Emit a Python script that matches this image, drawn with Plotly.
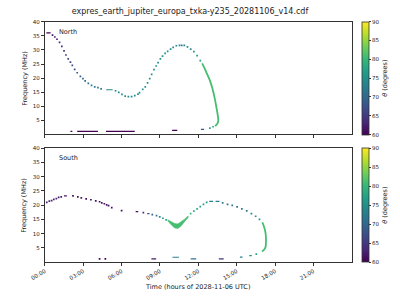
import plotly.graph_objects as go
from plotly.colors import sample_colorscale

TITLE = "expres_earth_jupiter_europa_txka-y235_20281106_v14.cdf"
TICK_HOURS = [0, 3, 6, 9, 12, 15, 18, 21]
TICK_LABELS = ["00:00", "03:00", "06:00", "09:00", "12:00", "15:00", "18:00", "21:00"]
FREQ_TICKS = [5, 10, 15, 20, 25, 30, 35, 40]
THETA_TICKS = [60, 65, 70, 75, 80, 85, 90]

# ---------------- North hemisphere ----------------
north_t = [0.6, 0.78, 0.95, 1.15, 1.33, 1.5, 1.65, 1.83, 2.0, 2.15, 2.33, 2.53, 2.78, 2.98,
           3.15, 3.4, 3.65, 3.9, 4.15, 4.4, 5.53, 5.78, 6.03, 6.28, 6.53, 6.78, 7.03, 7.28,
           7.4, 7.65, 7.85, 8.03, 8.2, 8.35, 8.53, 8.7, 8.85, 9.03, 9.2, 9.4, 9.6, 9.83,
           10.03, 10.28, 10.53, 10.7, 10.9, 11.15, 11.4, 11.65, 11.9, 12.15, 13.15, 12.9]
north_f = [35.3, 34.6, 33.8, 32.7, 31.3, 29.7, 28.2, 26.8, 25.7, 24.5, 23.1, 21.9, 20.6, 19.8,
           19.0, 18.1, 17.4, 16.9, 16.6, 16.2, 15.5, 14.9, 14.2, 13.6, 13.4, 13.4, 13.75, 14.3,
           14.8, 16.0, 16.9, 18.3, 19.8, 21.3, 23.0, 24.3, 25.5, 26.8, 27.8, 28.8, 29.5, 30.3,
           30.9, 31.5, 31.6, 31.6, 31.6, 31.1, 30.3, 29.4, 28.0, 26.2, 2.7, 2.2]
north_theta = [62, 63, 63, 64, 64, 65, 65, 66, 66, 67, 67, 68, 69, 70,
               70, 71, 72, 72, 73, 73, 74, 74, 74, 74, 74, 74, 74, 75,
               75, 75, 75, 75, 75, 75, 75, 75, 75, 75, 75, 75, 75, 74,
               74, 74, 73, 73, 73, 74, 74, 75, 76, 77, 78, 77]
# horizontal runs: start hour, end hour, frequency, theta
north_runs_t0 = [0.12, 4.8, 2.0, 2.53, 4.78, 9.95, 12.2]
north_runs_t1 = [0.45, 5.3, 2.15, 4.15, 7.03, 10.35, 12.45]
north_runs_f = [36.05, 15.85, 1.05, 1.05, 1.05, 1.4, 1.75]
north_runs_theta = [60, 74, 60, 60, 60, 60, 68]
# dense descending branch
north_arc_t = [12.3, 12.45, 12.65, 12.9, 13.1, 13.28, 13.4, 13.53, 13.55, 13.45, 13.3]
north_arc_f = [25.2, 23.8, 21.8, 19.2, 16.3, 12.8, 9.9, 6.4, 4.65, 3.6, 3.0]
north_arc_theta = 81

# ---------------- South hemisphere ----------------
south_t = [0.15, 0.35, 0.53, 0.7, 0.9, 1.08, 1.28, 2.2, 2.58, 2.85, 3.23, 3.6, 3.98, 4.28,
           4.45, 4.65, 4.83, 4.98, 5.23, 6.0, 7.7, 8.4, 8.73, 8.98, 9.23, 9.48,
           11.4, 11.65, 11.9, 12.15, 12.4, 12.65, 13.9, 14.28, 14.65, 15.03, 15.4, 15.78,
           16.15, 16.48, 16.78, 16.53, 4.28, 4.73]
south_f = [21.0, 21.4, 21.6, 22.0, 22.3, 22.7, 22.9, 23.25, 22.9, 22.55, 22.2, 21.9, 21.5, 21.2,
           20.8, 20.5, 20.1, 19.8, 19.1, 18.1, 17.4, 16.7, 16.3, 15.85, 15.4, 14.8,
           17.0, 17.9, 18.7, 19.5, 20.3, 21.0, 20.8, 20.3, 19.9, 19.4, 18.7, 18.0,
           17.0, 16.1, 15.0, 2.8, 1.1, 1.1]
south_theta = [63, 63, 63, 63, 63, 62, 62, 61, 61, 61, 61, 61, 61, 61,
               61, 61, 61, 61, 61, 61, 64, 69, 72, 74, 76, 78,
               80, 79, 78, 77, 76, 75, 72, 71, 71, 71, 72, 72,
               73, 74, 76, 78, 60, 60]
south_runs_t0 = [1.5, 7.1, 8.0, 12.85, 13.35, 8.33, 9.98, 11.4, 13.6, 15.25, 15.98]
south_runs_t1 = [1.72, 7.3, 8.18, 13.15, 13.65, 8.7, 10.48, 11.83, 13.98, 15.45, 16.18]
south_runs_f = [23.25, 17.7, 17.0, 21.3, 21.3, 1.1, 1.7, 1.1, 1.1, 1.75, 2.25]
south_runs_theta = [61, 61, 67, 73, 73, 62, 73, 71, 64, 73, 76]
south_arc_t = [17.0, 17.12, 17.22, 17.28, 17.28, 17.25, 17.15, 16.98]
south_arc_f = [14.0, 12.6, 11.0, 9.0, 6.6, 5.3, 4.4, 3.7]
south_arc_theta = 81
# thick V-shaped patch (outline: upper edge then lower edge)
south_blob_t = [9.6, 9.9, 10.15, 10.4, 10.65, 10.9, 11.2, 11.2, 10.9, 10.65, 10.4, 10.15, 9.9, 9.6]
south_blob_f = [14.9, 14.1, 13.55, 13.4, 14.1, 15.0, 16.2, 15.7, 14.1, 12.7, 11.8, 12.0, 13.0, 14.5]
south_blob_theta = 81

TMIN, TMAX = 60, 90


def col(theta):
    return sample_colorscale("Viridis", [(theta - TMIN) / (TMAX - TMIN)])[0]


fig = go.Figure()

panels = [
    ("x", "y", "coloraxis", north_t, north_f, north_theta,
     north_runs_t0, north_runs_t1, north_runs_f, north_runs_theta,
     north_arc_t, north_arc_f, north_arc_theta),
    ("x2", "y2", "coloraxis2", south_t, south_f, south_theta,
     south_runs_t0, south_runs_t1, south_runs_f, south_runs_theta,
     south_arc_t, south_arc_f, south_arc_theta),
]

for xa, ya, ca, t, f, th, r0, r1, rf, rth, at, af, ath in panels:
    for a, b, ff, tt in zip(r0, r1, rf, rth):
        fig.add_trace(go.Scatter(x=[a, b], y=[ff, ff], mode="lines",
                                 line=dict(color=col(tt), width=1.2),
                                 xaxis=xa, yaxis=ya, showlegend=False, hoverinfo="skip"))
    fig.add_trace(go.Scatter(x=at, y=af, mode="lines",
                             line=dict(color=col(ath), width=1.8, shape="spline"),
                             xaxis=xa, yaxis=ya, showlegend=False, hoverinfo="skip"))
    fig.add_trace(go.Scatter(x=t, y=f, mode="markers",
                             marker=dict(size=1.7, symbol="square", color=th, coloraxis=ca),
                             xaxis=xa, yaxis=ya, showlegend=False, hoverinfo="skip"))

fig.add_trace(go.Scatter(x=south_blob_t, y=south_blob_f, mode="lines", fill="toself",
                         fillcolor=col(south_blob_theta),
                         line=dict(color=col(south_blob_theta), width=0.6),
                         xaxis="x2", yaxis="y2", showlegend=False, hoverinfo="skip"))

W, H = 400, 300
xl, xr = 31 / W, 350 / W
top_dom = [1 - 132.7 / H, 1 - 19 / H]
bot_dom = [1 - 261.7 / H, 1 - 146.7 / H]
font = "DejaVu Sans"
axc = "#333333"

common_x = dict(range=[0, 24], tickvals=TICK_HOURS, ticktext=TICK_LABELS, ticks="outside",
                ticklen=3, tickcolor=axc, tickwidth=0.8, showline=True, mirror=True,
                linecolor=axc, linewidth=0.8, showgrid=False, zeroline=False,
                domain=[xl, xr], tickfont=dict(size=5.5, color="#222", family=font))
common_y = dict(range=[0, 40], tickvals=FREQ_TICKS, ticks="outside", ticklen=3, tickcolor=axc,
                tickwidth=0.8, showline=True, mirror=True, linecolor=axc, linewidth=0.8,
                showgrid=False, zeroline=False, tickfont=dict(size=5.5, color="#222", family=font))


def cbar(dom):
    return dict(x=360 / W, xanchor="left", y=(dom[0] + dom[1]) / 2, yanchor="middle",
                len=dom[1] - dom[0], lenmode="fraction", thickness=7, thicknessmode="pixels",
                outlinewidth=0.8, outlinecolor=axc, tickvals=THETA_TICKS, ticks="outside",
                ticklen=2, tickcolor=axc, tickfont=dict(size=5.5, color="#222", family=font),
                title=dict(text="<i>θ</i> (degrees)", side="right",
                           font=dict(size=6.5, color="#222", family=font)),
                xpad=0, ypad=0)


fig.update_layout(
    width=W, height=H, margin=dict(l=0, r=0, t=0, b=0),
    paper_bgcolor="white", plot_bgcolor="white",
    font=dict(family=font, color="#222"),
    title=dict(text=TITLE, x=190 / W, xanchor="center", y=1 - 11 / H, yanchor="middle",
               font=dict(size=8, family=font, color="#222")),
    xaxis=dict(common_x, anchor="y", showticklabels=False),
    yaxis=dict(common_y, domain=top_dom, anchor="x"),
    xaxis2=dict(common_x, anchor="y2", tickangle=-30),
    yaxis2=dict(common_y, domain=bot_dom, anchor="x2"),
    coloraxis=dict(colorscale="Viridis", cmin=TMIN, cmax=TMAX, colorbar=cbar(top_dom)),
    coloraxis2=dict(colorscale="Viridis", cmin=TMIN, cmax=TMAX, colorbar=cbar(bot_dom)),
    annotations=[
        dict(text="North", xref="x domain", yref="y domain", x=0.04, y=0.91,
             xanchor="left", yanchor="middle", showarrow=False, font=dict(size=6.5)),
        dict(text="South", xref="x2 domain", yref="y2 domain", x=0.04, y=0.91,
             xanchor="left", yanchor="middle", showarrow=False, font=dict(size=6.5)),
        dict(text="Frequency (MHz)", xref="paper", yref="paper", x=10 / W,
             y=(top_dom[0] + top_dom[1]) / 2, textangle=-90, showarrow=False,
             xanchor="center", yanchor="middle", font=dict(size=6.5)),
        dict(text="Frequency (MHz)", xref="paper", yref="paper", x=10 / W,
             y=(bot_dom[0] + bot_dom[1]) / 2, textangle=-90, showarrow=False,
             xanchor="center", yanchor="middle", font=dict(size=6.5)),
        dict(text="Time (hours of 2028-11-06 UTC)", xref="paper", yref="paper",
             x=190 / W, y=1 - 287 / H, showarrow=False, xanchor="center",
             yanchor="middle", font=dict(size=6.5)),
    ],
)

fig.write_html("out.html")
